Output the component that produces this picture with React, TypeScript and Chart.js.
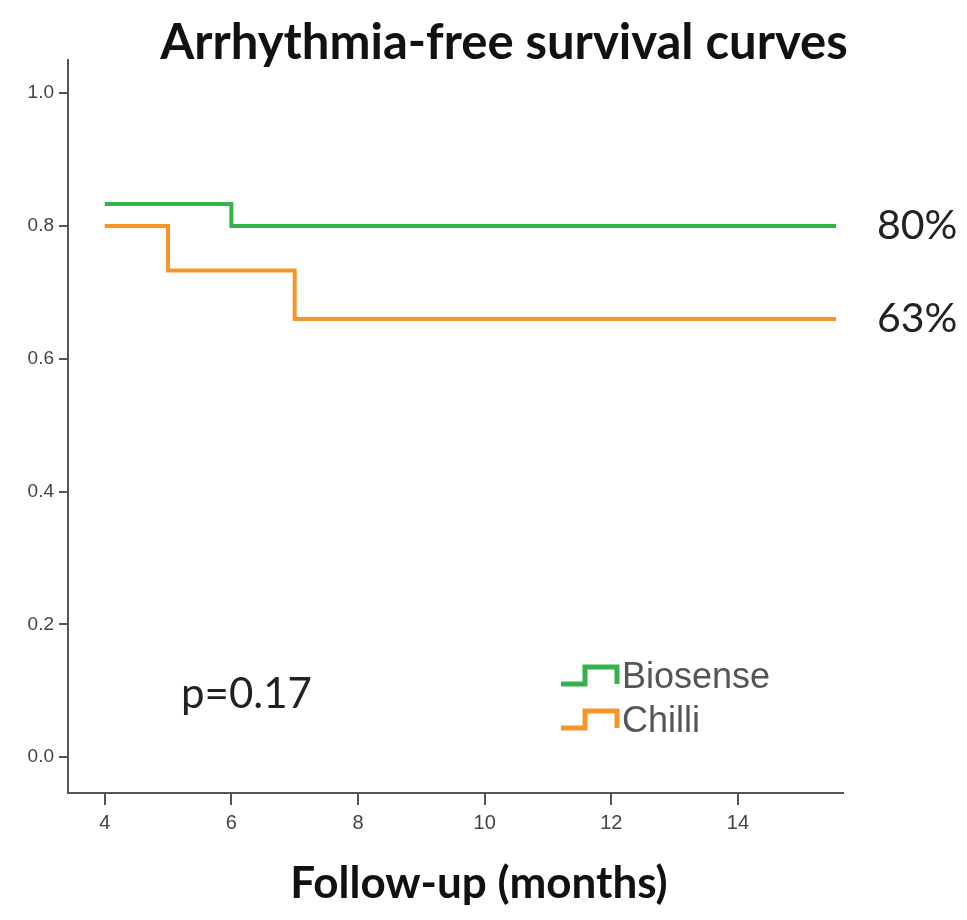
import React, { useEffect, useRef } from "react";
import { Chart, registerables } from "chart.js";

Chart.register(...registerables);

const chartTitle = "Arrhythmia-free survival curves";
const xAxisTitle = "Follow-up (months)";
const seriesNames = ["Biosense", "Chilli"];
const biosenseMonths = [4, 6, 15.55];
const biosenseSurvival = [0.833, 0.8, 0.8];
const chilliMonths = [4, 5, 7, 15.55];
const chilliSurvival = [0.8, 0.733, 0.66, 0.66];
const endLabels = ["80%", "63%"];
const pValueText = "p=0.17";
const xTicks = [4, 6, 8, 10, 12, 14];
const yTicks = [0, 0.2, 0.4, 0.6, 0.8, 1.0];

const GREEN = "#34b34a";
const ORANGE = "#f5962a";

const overlayPlugin = {
  id: "overlay",
  afterDraw(chart: any) {
    const ctx = chart.ctx;
    const ys = chart.scales.y;
    ctx.save();
    ctx.fillStyle = "#111";
    ctx.textBaseline = "middle";
    ctx.textAlign = "center";
    ctx.font = "bold 49px Lato";
    ctx.fillText(chartTitle, 504, 43);
    ctx.font = "bold 44px Lato";
    ctx.fillText(xAxisTitle, 479, 884);

    ctx.textAlign = "left";
    ctx.font = "41px Lato";
    ctx.fillStyle = "#222";
    ctx.fillText(endLabels[0], 877, ys.getPixelForValue(biosenseSurvival[biosenseSurvival.length - 1]));
    ctx.fillText(endLabels[1], 877, ys.getPixelForValue(chilliSurvival[chilliSurvival.length - 1]));
    ctx.font = "42px Lato";
    ctx.fillText(pValueText, 181, 694);

    // legend
    const colors = [GREEN, ORANGE];
    const rows = [677, 721];
    ctx.lineWidth = 5;
    ctx.lineJoin = "miter";
    rows.forEach((cy, i) => {
      ctx.strokeStyle = colors[i];
      ctx.beginPath();
      ctx.moveTo(561, cy + 7);
      ctx.lineTo(585, cy + 7);
      ctx.lineTo(585, cy - 10);
      ctx.lineTo(617, cy - 10);
      ctx.lineTo(617, cy + 7);
      ctx.stroke();
      ctx.fillStyle = "#555";
      ctx.font = "36px 'Liberation Sans'";
      ctx.fillText(seriesNames[i], 622, cy + 1);
    });
    ctx.restore();
  },
};

export default function App() {
  const ref = useRef<HTMLCanvasElement | null>(null);
  useEffect(() => {
    document.body.style.margin = "0";
    const canvas = ref.current!;
    const chart = new Chart(canvas, {
      type: "line",
      data: {
        datasets: [
          {
            label: seriesNames[0],
            data: biosenseMonths.map((m, i) => ({ x: m, y: biosenseSurvival[i] })),
            borderColor: GREEN,
            borderWidth: 4,
            stepped: "before",
            pointRadius: 0,
            fill: false,
          },
          {
            label: seriesNames[1],
            data: chilliMonths.map((m, i) => ({ x: m, y: chilliSurvival[i] })),
            borderColor: ORANGE,
            borderWidth: 4,
            stepped: "before",
            pointRadius: 0,
            fill: false,
          },
        ],
      },
      options: {
        animation: false,
        responsive: false,
        maintainAspectRatio: false,
        layout: { padding: { top: 60, right: 124, left: 0, bottom: 0 } },
        plugins: { legend: { display: false }, title: { display: false }, tooltip: { enabled: false } },
        scales: {
          x: {
            type: "linear",
            min: 3.42,
            max: 15.66,
            afterBuildTicks: (s: any) => {
              s.ticks = xTicks.map((v) => ({ value: v }));
            },
            afterFit: (s: any) => {
              s.height = 127;
            },
            grid: { display: true, drawOnChartArea: false, drawTicks: true, tickLength: 12, color: "#555", lineWidth: 2 },
            border: { display: true, color: "#555", width: 2 },
            ticks: { color: "#444", font: { size: 20, family: "'Liberation Sans'" }, padding: 6, maxRotation: 0, autoSkip: false },
          },
          y: {
            type: "linear",
            min: -0.054,
            max: 1.05,
            afterBuildTicks: (s: any) => {
              s.ticks = yTicks.map((v) => ({ value: v }));
            },
            afterFit: (s: any) => {
              s.width = 68;
            },
            grid: { display: true, drawOnChartArea: false, drawTicks: true, tickLength: 9, color: "#555", lineWidth: 2 },
            border: { display: true, color: "#555", width: 2 },
            ticks: {
              color: "#444",
              font: { size: 19, family: "'Liberation Sans'" },
              padding: 5,
              autoSkip: false,
              callback: (v: any) => Number(v).toFixed(1),
            },
          },
        },
      },
      plugins: [overlayPlugin],
    });
    return () => chart.destroy();
  }, []);
  return (
    <div style={{ width: 967, height: 920, background: "#fff" }}>
      <canvas ref={ref} width={967} height={920} style={{ display: "block" }} />
    </div>
  );
}
